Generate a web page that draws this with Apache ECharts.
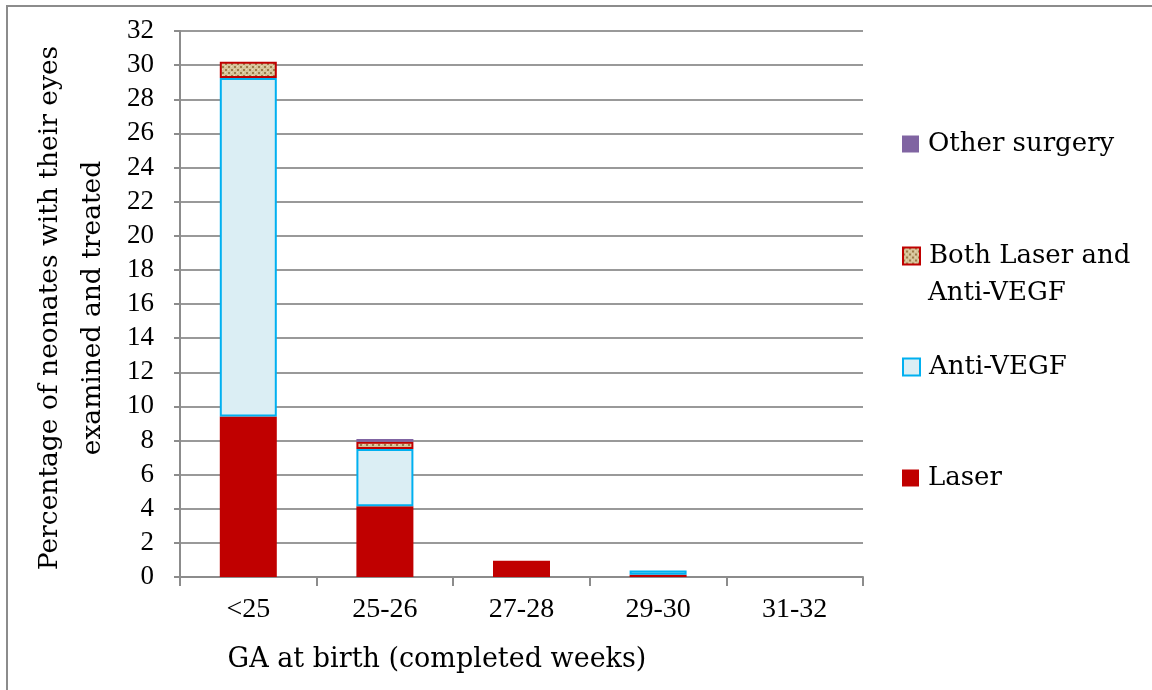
<!DOCTYPE html>
<html>
<head>
<meta charset="utf-8">
<script src="https://cdn.jsdelivr.net/npm/echarts@6/dist/echarts.min.js"></script>
<style>
  html, body { margin: 0; padding: 0; background: #fff; }
  #main { width: 1152px; height: 690px; }
</style>
</head>
<body>
<div id="main"></div>
<script>
// data (percent of neonates)
var categories = ['<25', '25-26', '27-28', '29-30', '31-32'];
var laser = [9.4, 4.15, 0.95, 0.13, 0];
var antiVegf = [19.85, 3.35, 0, 0.25, 0];
var bothLaserVegf = [0.95, 0.42, 0, 0, 0];
var otherSurgery = [0, 0.17, 0, 0, 0];

var seriesNames = ['Laser', 'Anti-VEGF', 'Both Laser and Anti-VEGF', 'Other surgery'];

// tan dotted texture for the "both" series
function makePattern() {
    var c = document.createElement('canvas');
    c.width = 6; c.height = 6;
    var ctx = c.getContext('2d');
    ctx.fillStyle = '#d6c49a';
    ctx.fillRect(0, 0, 6, 6);
    ctx.fillStyle = '#9c7c4a';
    ctx.fillRect(0, 0, 2, 2);
    ctx.fillRect(3, 3, 2, 2);
    ctx.fillStyle = '#eadcb8';
    ctx.fillRect(3, 0, 1, 1);
    ctx.fillRect(0, 3, 1, 1);
    return c;
}

// zero segments are left out so no stroke is drawn for them
function nz(arr) {
    return arr.map(function (v) { return v > 0 ? v : null; });
}

var serifFont = 'DejaVu Serif';
var numFont = 'Liberation Serif';

var chartDom = document.getElementById('main');
var myChart = echarts.init(chartDom);

function legendAt(name, top, text) {
    return {
        data: [name],
        left: 902,
        top: top,
        padding: 0,
        orient: 'vertical',
        icon: 'rect',
        itemWidth: 17,
        itemHeight: 17,
        itemGap: 0,
        selectedMode: false,
        formatter: text ? function () { return text; } : null,
        textStyle: { fontFamily: serifFont, fontSize: 26, color: '#000', padding: [0, 0, 0, 4] }
    };
}

var option = {
    animation: false,
    backgroundColor: '#fff',
    grid: { left: 180, right: 289, top: 31, bottom: 113 },
    legend: [
        legendAt('Other surgery', 131),
        legendAt('Both Laser and Anti-VEGF', 243, 'Both Laser and'),
        legendAt('Anti-VEGF', 354),
        legendAt('Laser', 465)
    ],
    xAxis: {
        type: 'category',
        data: categories,
        axisLine: { lineStyle: { color: '#8c8c8c', width: 2 } },
        axisTick: { show: true, length: 9, lineStyle: { color: '#8c8c8c', width: 2 } },
        axisLabel: { margin: 19, fontFamily: numFont, fontSize: 28, color: '#000' }
    },
    yAxis: {
        type: 'value',
        min: 0,
        max: 32,
        interval: 2,
        axisLine: { show: true, lineStyle: { color: '#8c8c8c', width: 2 } },
        axisTick: { show: true, length: 6, lineStyle: { color: '#8c8c8c', width: 2 } },
        axisLabel: { margin: 26, fontFamily: numFont, fontSize: 27, color: '#000' },
        splitLine: { lineStyle: { color: '#999', width: 2 } }
    },
    graphic: [
        {
            type: 'polyline',
            shape: { points: [[7, 690], [7, 6], [1152, 6]] },
            style: { stroke: '#8c8c8c', lineWidth: 2, fill: null }
        },
        {
            type: 'text',
            left: 928,
            top: 280,
            style: { text: 'Anti-VEGF', font: '26px "DejaVu Serif"', fill: '#000' }
        },
        {
            type: 'text',
            x: 437,
            y: 660,
            style: {
                text: 'GA at birth (completed weeks)',
                font: '27px "DejaVu Serif"',
                fill: '#000',
                align: 'center',
                verticalAlign: 'middle'
            }
        },
        {
            type: 'text',
            x: 72,
            y: 308,
            rotation: Math.PI / 2,
            style: {
                text: 'Percentage of neonates with their eyes\nexamined and treated',
                font: '26.5px "DejaVu Serif"',
                lineHeight: 43,
                fill: '#000',
                align: 'center',
                verticalAlign: 'middle'
            }
        }
    ],
    series: [
        {
            name: seriesNames[0],
            type: 'bar',
            stack: 'total',
            barWidth: 57,
            data: nz(laser),
            itemStyle: { color: '#c00000' }
        },
        {
            name: seriesNames[1],
            type: 'bar',
            stack: 'total',
            barWidth: 57,
            data: nz(antiVegf),
            itemStyle: { color: '#dbeef4', borderColor: '#00b0f0', borderWidth: 2 }
        },
        {
            name: seriesNames[2],
            type: 'bar',
            stack: 'total',
            barWidth: 57,
            data: nz(bothLaserVegf),
            itemStyle: {
                color: { image: makePattern(), repeat: 'repeat' },
                borderColor: '#c00000',
                borderWidth: 2
            }
        },
        {
            name: seriesNames[3],
            type: 'bar',
            stack: 'total',
            barWidth: 57,
            data: nz(otherSurgery),
            itemStyle: { color: '#8064a2' }
        }
    ]
};

myChart.setOption(option);
</script>
</body>
</html>
